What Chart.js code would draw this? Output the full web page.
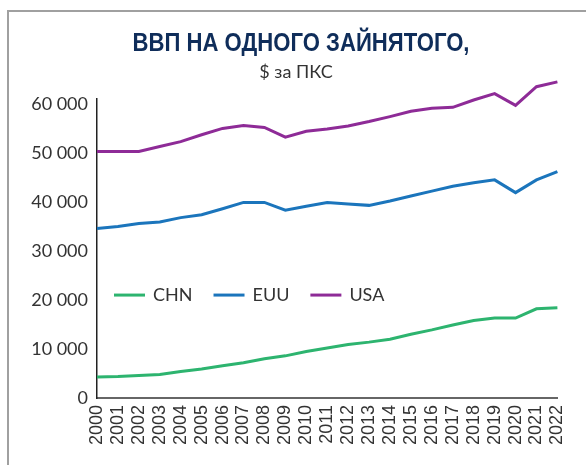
<!DOCTYPE html>
<html>
<head>
<meta charset="utf-8">
<script src="https://cdn.jsdelivr.net/npm/chart.js@4.4.1/dist/chart.umd.min.js"></script>
<style>
  html, body { margin: 0; padding: 0; background: #fff; }
  #wrap { position: relative; width: 586px; height: 465px; }
  #frame { position: absolute; left: 7px; top: 10px; right: 0; bottom: 0;
           border-top: 2px solid #a0a0a0; border-left: 2px solid #a0a0a0; }
  canvas { position: absolute; left: 0; top: 0; }
</style>
</head>
<body>
<div id="wrap">
  <div id="frame"></div>
  <canvas id="gdpChart" width="586" height="465"></canvas>
</div>
<script>
const years = ["2000", "2001", "2002", "2003", "2004", "2005", "2006", "2007", "2008", "2009", "2010",
  "2011", "2012", "2013", "2014", "2015", "2016", "2017", "2018", "2019", "2020", "2021", "2022"];

const chnValues = [4300, 4400, 4600, 4800, 5400, 5900, 6600, 7200, 8000, 8600, 9500,
  10200, 10900, 11400, 12000, 13000, 13900, 14900, 15800, 16300, 16300, 18200, 18400];
const euuValues = [34600, 35000, 35600, 35900, 36800, 37400, 38600, 39900, 39900, 38300, 39100,
  39900, 39600, 39300, 40200, 41200, 42200, 43200, 43900, 44500, 41900, 44500, 46200];
const usaValues = [50300, 50300, 50300, 51300, 52300, 53700, 55000, 55600, 55200, 53200, 54400,
  54900, 55500, 56400, 57400, 58500, 59100, 59300, 60800, 62100, 59700, 63500, 64500];

const yTicks = [0, 10000, 20000, 30000, 40000, 50000, 60000];

const titleText = "ВВП НА ОДНОГО ЗАЙНЯТОГО,";
const subtitleText = "$ за ПКС";

// condensed bold title + subtitle (no condensed font installed, so squeeze it)
const headerText = {
  id: 'headerText',
  afterDraw(chart) {
    const ctx = chart.ctx;
    ctx.save();
    ctx.textBaseline = 'middle';
    ctx.textAlign = 'center';
    ctx.font = 'bold 25px "Liberation Sans", Arial, sans-serif';
    ctx.fillStyle = '#0f2d5a';
    const w = ctx.measureText(titleText).width;
    const sx = 337 / w;
    ctx.translate(301, 44);
    ctx.scale(sx, 1);
    ctx.fillText(titleText, 0, 0);
    ctx.restore();

    ctx.save();
    ctx.textBaseline = 'middle';
    ctx.textAlign = 'center';
    ctx.font = '18px Lato, "Open Sans", sans-serif';
    ctx.fillStyle = '#333';
    ctx.fillText(subtitleText, 296, 72);
    ctx.restore();
  }
};

// legend drawn inside the plot area
const innerLegend = {
  id: 'innerLegend',
  afterDatasetsDraw(chart) {
    const ctx = chart.ctx;
    const area = chart.chartArea;
    const y = chart.scales.y.getPixelForValue(21000);
    let x = area.left + 17;
    ctx.save();
    ctx.font = '18px Lato, "Open Sans", sans-serif';
    ctx.textBaseline = 'middle';
    chart.data.datasets.forEach(ds => {
      ctx.strokeStyle = ds.borderColor;
      ctx.lineWidth = 3;
      ctx.beginPath();
      ctx.moveTo(x, y);
      ctx.lineTo(x + 31, y);
      ctx.stroke();
      x += 39;
      ctx.fillStyle = '#333';
      ctx.fillText(ds.label, x, y);
      x += ctx.measureText(ds.label).width + 21;
    });
    ctx.restore();
  }
};

const ctx = document.getElementById("gdpChart").getContext("2d");
const gdpChart = new Chart(ctx, {
  type: 'line',
  data: {
    labels: years,
    datasets: [
      { label: 'CHN', data: chnValues, borderColor: '#2db46f' },
      { label: 'EUU', data: euuValues, borderColor: '#1b75bc' },
      { label: 'USA', data: usaValues, borderColor: '#8e2b97' }
    ].map(ds => Object.assign(ds, {
      borderWidth: 3,
      pointRadius: 0,
      tension: 0,
      fill: false,
      clip: false
    }))
  },
  options: {
    responsive: false,
    animation: false,
    layout: { padding: { left: 7, right: 14, top: 99, bottom: 0 } },
    scales: {
      x: {
        offset: false,
        grid: { display: false, drawTicks: false },
        border: { color: '#666', width: 2 },
        ticks: {
          autoSkip: false,
          minRotation: 90,
          maxRotation: 90,
          padding: 7,
          color: '#333',
          font: { family: '"Liberation Sans", Arial, sans-serif', size: 18 }
        },
        afterFit(scale) { scale.height = 67; }
      },
      y: {
        min: 0,
        max: 61000,
        grid: { display: false, drawTicks: false },
        border: { color: '#222', width: 1.5 },
        afterBuildTicks(scale) { scale.ticks = yTicks.map(v => ({ value: v })); },
        ticks: {
          padding: 9,
          color: '#333',
          font: { family: 'Lato, "Open Sans", sans-serif', size: 18 },
          callback: v => v === 0 ? '0' : String(v).replace(/\B(?=(\d{3})+(?!\d))/g, ' ')
        },
        afterFit(scale) { scale.width = 90; }
      }
    },
    plugins: {
      legend: { display: false },
      tooltip: { enabled: false },
      title: { display: false },
      subtitle: { display: false }
    }
  },
  plugins: [innerLegend, headerText]
});
</script>
</body>
</html>
